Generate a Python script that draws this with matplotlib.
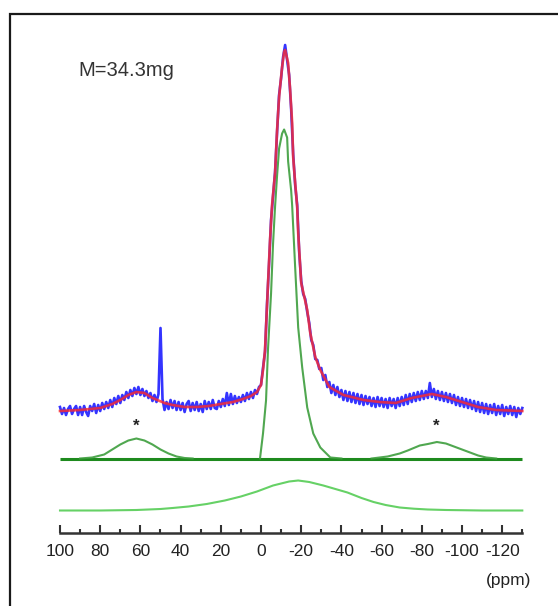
import matplotlib
matplotlib.use("Agg")
import matplotlib.pyplot as plt
import numpy as np
from matplotlib.patches import Rectangle

# ---------------- data ----------------
# experimental spectrum, 1 ppm steps from 100 to -130 ppm (intensity, a.u.)
spec_ppm = list(range(100, -131, -1))
spec_int = [
    5, -2, 4, -3, 3, 6, -2, 3, 6, -3,        # 100..91
    5, -3, 6, 0, -4, 6, 1, 8, -1, 7,         # 90..81
    1, 9, 3, 10, 4, 12, 5, 14, 8, 16,        # 80..71
    9, 17, 12, 20, 14, 22, 16, 24, 18, 25,   # 70..61
    17, 23, 16, 21, 14, 19, 11, 17, 10, 18,  # 60..51
    84, 13, 2, 10, 3, 12, 4, 11, 2, 10,      # 50..41
    2, 9, 0, 8, 11, 1, 9, 2, 10, 1,          # 40..31
    8, 0, 11, 3, 10, 3, 12, 4, 3, 11,        # 30..21
    5, 13, 6, 19, 7, 18, 8, 16, 9, 15,       # 20..11
    10, 17, 11, 19, 13, 20, 14, 22, 18, 25,  # 10..1
    27, 44, 60, 108, 148, 192, 216, 240, 280, 317,    # 0..-9
    334, 355, 367, 352, 337, 303, 258, 227, 207, 160,  # -10..-19
    131, 118, 113, 100, 89, 72, 67, 53, 52, 43,       # -20..-29
    44, 32, 37, 25, 30, 19, 27, 17, 25, 15,           # -30..-39
    22, 12, 21, 11, 20, 10, 19, 9, 18, 8,             # -40..-49
    17, 7, 16, 8, 15, 6, 14, 5, 15, 6,                # -50..-59
    14, 5, 13, 4, 14, 6, 13, 4, 14, 6,                # -60..-69
    15, 7, 17, 8, 18, 10, 19, 11, 20, 12,             # -70..-79
    21, 13, 21, 14, 29, 15, 23, 13, 21, 12,           # -80..-89
    20, 11, 19, 10, 18, 9, 17, 7, 15, 6,              # -90..-99
    14, 5, 13, 4, 12, 3, 11, 1, 10, 0,                # -100..-109
    9, -1, 8, -2, 7, -1, 8, -3, 6, -2,                # -110..-119
    7, -4, 5, -2, 6, -3, 5, -5, 4, -2, 4,             # -120..-130
]

# total fit
fit_ppm = [100, 90, 80, 74, 70, 66, 62, 58, 54, 48, 44, 38, 32, 26, 20, 14, 9, 5, 2,
           0, -1, -2, -3.5, -4.5, -5.5, -7, -8, -9, -10.5, -11.5, -12, -13.5, -14.5,
           -15.5, -16, -17, -18, -18.5, -20, -23, -24.5, -27, -29.5, -34, -41, -51,
           -59, -67, -75, -85, -92, -100, -108, -117, -130]
fit_int = [1, 2, 4, 8, 12, 17, 20, 19, 14, 9, 7, 5, 5, 6, 8, 10, 13, 16, 20,
           27, 42, 62, 129, 172, 207, 239, 282, 315, 345, 360, 362, 349, 322,
           289, 255, 229, 205, 179, 129, 102, 79, 55, 42, 25, 17, 12,
           10, 9, 14, 18, 15, 10, 5, 2, 1]

# central component
main_ppm = [0.5, -1, -2.5, -3.5, -5, -6, -7, -8, -9, -10.5, -11.5, -13, -13.5, -15,
            -15.5, -17, -18.5, -20.5, -23, -26, -29.5, -34.5, -40]
main_int = [0, 25, 58, 110, 165, 215, 252, 283, 310, 325, 329, 321, 297, 268,
            253, 191, 131, 91, 51, 25, 11, 1, 0]

# spinning sidebands (*)
sbl_ppm = [90, 84, 78, 74, 70, 66, 62, 58, 54, 50, 46, 42, 38, 34]
sbl_int = [0, 1, 4, 9, 14, 18, 20, 18, 14, 9, 5, 2, 0.5, 0]
sbr_ppm = [-55, -63, -69, -73, -79, -83, -87.5, -92, -96, -100, -104, -108, -112, -117]
sbr_int = [0, 2, 5, 8, 13, 14.5, 16.5, 15, 12, 9, 6, 3, 1, 0]
sideband_pos = [62, -87]

# broad component
broad_ppm = [100, 80, 62, 50, 44, 36, 27, 18, 10, 2, -6, -14, -18.5, -24, -31, -37,
             -43, -50, -56, -62, -69, -76, -83, -92, -110, -130]
broad_int = [0, 0, 0.5, 1.5, 2.5, 4, 6.5, 10, 14, 19, 25, 29, 30, 28.5, 25, 21.5,
             18, 12.5, 8.5, 5.5, 3, 1.8, 1, 0.5, 0, 0]

tick_values = [100, 80, 60, 40, 20, 0, -20, -40, -60, -80, -100, -120]
tick_labels = ["100", "80", "60", "40", "20", "0", "-20", "-40", "-60", "-80", "-100", "-120"]
minor_values = [90, 70, 50, 30, 10, -10, -30, -50, -70, -90, -110, -130]
axis_range = (100, -130)
sample_label = "M=34.3mg"

# ---------------- layout ----------------
FAM = ["Liberation Sans Narrow", "Liberation Sans", "DejaVu Sans"]
plt.rcParams["font.family"] = FAM

OFF_SPEC = 194      # vertical offsets of the stacked traces
OFF_COMP = 147.5
OFF_BROAD = 95.5
AXIS_Y = 73

fig = plt.figure(figsize=(5.58, 6.06), dpi=100)
ax = fig.add_axes([0, 0, 1, 1])
ax.set_xlim(129.85, -147.76)
ax.set_ylim(0, 606)

# components
ax.hlines(OFF_COMP, axis_range[0], axis_range[1], color="#1e8a1e", lw=2.2, zorder=2)
ax.plot(main_ppm, np.array(main_int) + OFF_COMP, color="#3d9e3d", lw=1.5, alpha=0.9, zorder=3)
ax.plot(sbl_ppm, np.array(sbl_int) + OFF_COMP, color="#3d9e3d", lw=1.5, alpha=0.9, zorder=3)
ax.plot(sbr_ppm, np.array(sbr_int) + OFF_COMP, color="#3d9e3d", lw=1.5, alpha=0.9, zorder=3)
ax.plot(broad_ppm, np.array(broad_int) + OFF_BROAD, color="#55cc55", lw=1.5, alpha=0.9, zorder=3)

# spectrum + fit
ax.plot(spec_ppm, np.array(spec_int) + OFF_SPEC, color="#1010ff", lw=1.9, alpha=0.85, zorder=4)
ax.plot(fit_ppm, np.array(fit_int) + OFF_SPEC, color="#ff2a2a", lw=1.9, alpha=0.8, zorder=5)

for p in sideband_pos:
    ax.text(p, 180, "*", ha="center", va="center", fontsize=12, color="#222222",
            family=FAM, fontweight="bold")

ax.text(91, 535, sample_label, ha="left", va="center", fontsize=14.5,
        color="#333333", family=FAM)

# ppm axis
for s in ["left", "right", "top"]:
    ax.spines[s].set_visible(False)
ax.spines["bottom"].set_position(("data", AXIS_Y))
ax.spines["bottom"].set_bounds(axis_range[0], axis_range[1])
ax.spines["bottom"].set_linewidth(1.8)
ax.spines["bottom"].set_color("#333333")
ax.set_yticks([])
ax.set_xticks(tick_values)
ax.set_xticklabels(tick_labels)
ax.set_xticks(minor_values, minor=True)
ax.tick_params(axis="x", which="major", direction="in", length=6, width=1.5,
               color="#333333", pad=8, labelsize=12.5, labelcolor="#222222")
ax.tick_params(axis="x", which="minor", direction="in", length=3, width=1.5,
               color="#333333")
ax.set_xlabel("(ppm)", fontsize=12.5, color="#222222")
ax.xaxis.set_label_coords(531 / 558, 26 / 606)
ax.xaxis.label.set_ha("right")
ax.xaxis.label.set_va("center")

# outer frame
fig.add_artist(Rectangle((9.5 / 558, -0.05), 1.0, 1 - 14 / 606 + 0.05,
                         transform=fig.transFigure, fill=False, lw=1.6, ec="#1a1a1a"))

fig.savefig("out.png", dpi=100)
